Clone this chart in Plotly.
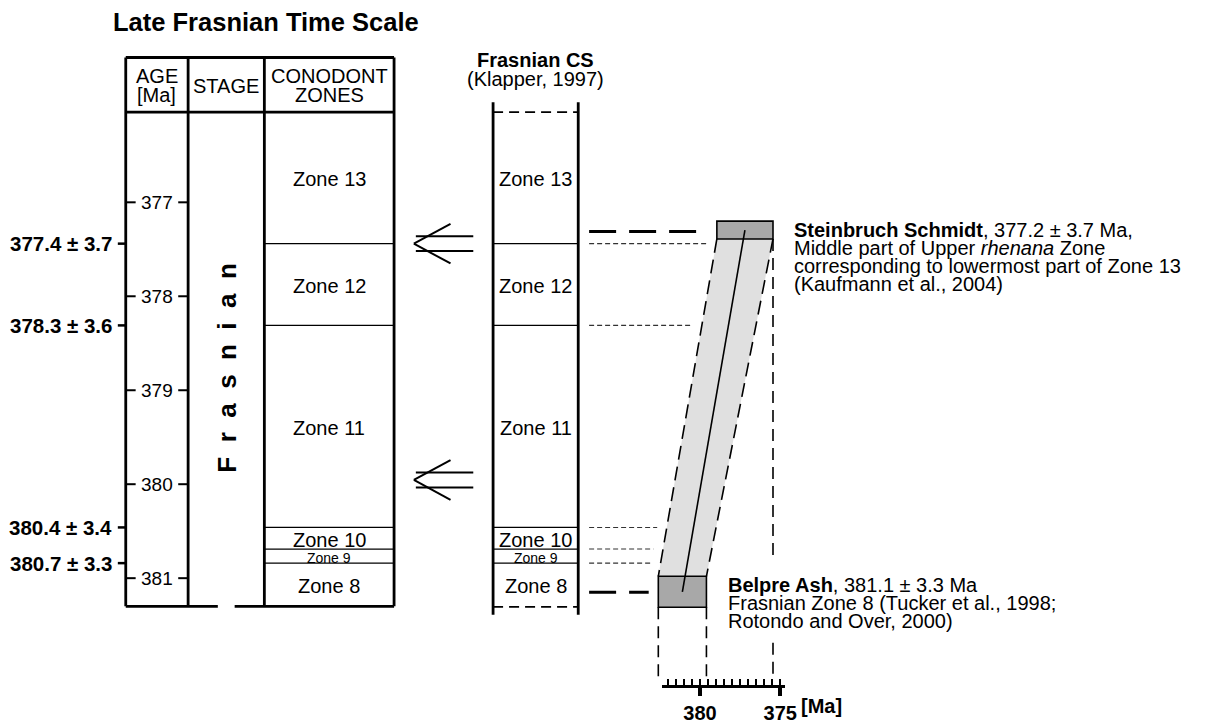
import plotly.graph_objects as go

W, H = 1215, 724
FONT = "Liberation Sans, Arial, sans-serif"

# ---------------- data ----------------
age_ticks = [377, 378, 379, 380, 381]
zone_names = ["Zone 13", "Zone 12", "Zone 11", "Zone 10", "Zone 9", "Zone 8"]
zone_label_sizes = [20, 20, 20, 20, 14, 20]
zone_boundaries = [377.44, 378.31, 380.46, 380.69, 380.84]   # position on the age column
boundary_labels = ["377.4 ± 3.7", "378.3 ± 3.6", "380.4 ± 3.4", "", "380.7 ± 3.3"]
zone13_top_age = 376.04
table_base_age = 381.30
arrow_ages = [377.44, 379.955]

sample_names = ["Steinbruch Schmidt", "Belpre Ash"]
sample_age = [377.2, 381.1]          # radiometric age (Ma), lower x-scale
sample_halfwidth = [1.75, 1.5]       # drawn half width (Ma)
sample_y_top = [377.20, 380.98]      # vertical extent on time column
sample_y_bot = [377.39, 381.31]
sample_link_y = [377.31, 381.15]
ma_major = [380, 375]

steinbruch_text = ["<b>Steinbruch Schmidt</b>, 377.2 ± 3.7 Ma,",
                   "Middle part of Upper <i>rhenana</i> Zone",
                   "corresponding to lowermost part of Zone 13",
                   "(Kaufmann et al., 2004)"]
belpre_text = ["<b>Belpre Ash</b>, 381.1 ± 3.3 Ma",
               "Frasnian Zone 8 (Tucker et al., 1998;",
               "Rotondo and Over, 2000)"]

# ---------------- page scales ----------------
PXY = 94.75      # px per Ma on the time column
def Y(p):        # page pixel row -> time-column Ma
    return 377 + (p - 204) / PXY
PXX = 16.2       # px per Ma on lower age scale, 380 Ma at px 707
def X2(p):
    return 380 - (p - 707) / PXX

shapes = []
def line(x0, y0, x1, y1, xref="x", width=2.5, dash=None, color="black"):
    d = dict(type="line", xref=xref, yref="y", x0=x0, y0=y0, x1=x1, y1=y1,
             line=dict(color=color, width=width))
    if dash:
        d["line"]["dash"] = dash
    shapes.append(d)

ann = []
def text(x, y, s, size=20, xanchor="center", xref="x", angle=0):
    ann.append(dict(x=x, y=y, xref=xref, yref="y", text=s, showarrow=False,
                    xanchor=xanchor, yanchor="middle", textangle=angle,
                    font=dict(family=FONT, size=size, color="black")))

# ---------------- left table ----------------
L, C1, C2, R = 127, 190, 267, 398
top, head = Y(58), Y(113)
for x in (L, C1, C2, R):
    line(x, top, x, table_base_age, width=2.8)
line(L, top, R, top, width=2.8)
line(L, head, R, head, width=2.8)
line(L, table_base_age, 220, table_base_age, width=2.8)
line(237, table_base_age, R, table_base_age, width=2.8)
for b in zone_boundaries:
    line(C2, b, R, b, width=1.3)
for a in age_ticks:
    line(L, a, L + 10, a, width=2)
    line(C1 - 10, a, C1, a, width=2)
    text((L + C1) / 2, a, str(a), size=19)
for b, lab in zip(zone_boundaries, boundary_labels):
    if lab:
        line(119, b, L, b, width=2.5)
        text(115, b, "<b>" + lab + "</b>", size=20.5, xanchor="right")

text(112, Y(22), "<b>Late Frasnian Time Scale</b>", size=25.5, xanchor="left")
text((L + C1) / 2, Y(77), "AGE", size=20)
text((L + C1) / 2, Y(96), "[Ma]", size=20)
text((C1 + C2) / 2, Y(87), "STAGE", size=20)
text((C2 + R) / 2, Y(77), "CONODONT", size=20)
text((C2 + R) / 2, Y(96), "ZONES", size=20)
sp = "\u00a0\u00a0"
text(229, Y(371), "<b>" + sp.join("Frasnian") + "</b>", size=26, angle=-90)

tops = [zone13_top_age] + zone_boundaries
bots = zone_boundaries + [table_base_age]
for nm, sz, t, b in zip(zone_names, zone_label_sizes, tops, bots):
    yc = (t + b) / 2 + 1.5 / PXY
    text((C2 + R) / 2, yc, nm, size=sz)

# ---------------- Klapper composite standard column ----------------
CL, CR = 498, 584
line(CL, Y(103), CL, Y(620), width=2.8)
line(CR, Y(103), CR, Y(620), width=2.8)
line(CL, zone13_top_age, CR, zone13_top_age, width=1.8, dash="10px,6px")
line(CL, Y(612), CR, Y(612), width=1.8, dash="10px,6px")
for b in zone_boundaries:
    line(CL, b, CR, b, width=1.3)
for nm, sz, t, b in zip(zone_names, zone_label_sizes, tops, bots):
    yc = (t + b) / 2 + 1.5 / PXY
    text((CL + CR) / 2, yc, nm, size=sz)
text((CL + CR) / 2, Y(61), "<b>Frasnian CS</b>", size=20)
text((CL + CR) / 2, Y(80), "(Klapper, 1997)", size=20)

# arrows pointing to the left table
for a in arrow_ages:
    dy = 7.5 / PXY
    line(420, a - dy, 478, a - dy, width=2)
    line(420, a + dy, 478, a + dy, width=2)
    line(418, a, 455, a - 20 / PXY, width=2)
    line(418, a, 455, a + 20 / PXY, width=2)

# ---------------- right panel: samples ----------------
left_top = sample_age[0] + sample_halfwidth[0]
right_top = sample_age[0] - sample_halfwidth[0]
left_bot = sample_age[1] + sample_halfwidth[1]
right_bot = sample_age[1] - sample_halfwidth[1]
yt, yb = sample_y_bot[0], sample_y_top[1]

# thin dashed correlation lines from the CS column to the band
for b in zone_boundaries:
    t = (b - yt) / (yb - yt)
    edge = left_top + t * (left_bot - left_top)
    line(X2(595), b, edge + 0.6, b, xref="x2", width=1.1, dash="5px,3px",
         color="#333333")

# thick dashed links at sample levels
line(X2(595), sample_link_y[0], left_top + 0.6, sample_link_y[0], xref="x2",
     width=3, dash="27px,13px")
line(X2(595), sample_link_y[1], left_bot + 0.6, sample_link_y[1], xref="x2",
     width=3, dash="27px,13px")

# dashed band edges
line(left_top, yt, left_bot, yb, xref="x2", width=1.6, dash="14px,7px")
line(right_top, yt, right_bot, yb, xref="x2", width=1.6, dash="14px,7px")

# vertical dashed guides to the age scale
line(left_bot, sample_y_bot[1], left_bot, Y(683), xref="x2", width=1.6, dash="12px,7px")
line(right_bot, sample_y_bot[1], right_bot, Y(683), xref="x2", width=1.6, dash="12px,7px")
line(right_top, sample_y_bot[0], right_top, Y(563), xref="x2", width=1.6, dash="12px,7px")
line(right_top, Y(648), right_top, Y(680), xref="x2", width=1.6, dash="12px,7px")

# sample boxes
for a, hw, y0, y1 in zip(sample_age, sample_halfwidth, sample_y_top, sample_y_bot):
    shapes.append(dict(type="rect", xref="x2", yref="y", x0=a + hw, x1=a - hw,
                       y0=y0, y1=y1, fillcolor="#a8a8a8",
                       line=dict(color="black", width=1.6)))
# line joining the sample centres
line(sample_age[0], (sample_y_top[0] + sample_y_bot[0]) / 2,
     sample_age[1], (sample_y_top[1] + sample_y_bot[1]) / 2,
     xref="x2", width=1.6)

for i, s in enumerate(steinbruch_text):
    text(800, Y(232 + 18 * i), s, size=20, xanchor="left")
for i, s in enumerate(belpre_text):
    text(733, Y(590 + 18 * i), s, size=20, xanchor="left")
text(807, Y(712), "<b>[Ma]</b>", size=20, xanchor="left")

# ---------------- figure ----------------
fig = go.Figure()
# band between the two samples
fig.add_trace(go.Scatter(
    x=[left_top, right_top, right_bot, left_bot, left_top],
    y=[yt, yt, yb, yb, yt], xaxis="x2", yaxis="y",
    fill="toself", fillcolor="#e0e0e0", mode="lines",
    line=dict(width=0, color="rgba(0,0,0,0)"), hoverinfo="skip",
    showlegend=False))
# invisible trace carrying the lower age axis
fig.add_trace(go.Scatter(x=ma_major, y=[381, 381], xaxis="x3", yaxis="y",
                         mode="markers", marker=dict(opacity=0),
                         hoverinfo="skip", showlegend=False))

fig.update_layout(
    width=W, height=H, autosize=False,
    margin=dict(l=0, r=0, t=0, b=0, pad=0),
    paper_bgcolor="white", plot_bgcolor="rgba(0,0,0,0)",
    showlegend=False,
    xaxis=dict(range=[0, W], visible=False, fixedrange=True),
    xaxis2=dict(range=[X2(0), X2(W)], overlaying="x", visible=False,
                fixedrange=True),
    xaxis3=dict(domain=[669 / W, 793 / W], range=[X2(669), X2(793)],
                anchor="free", position=1 - 692 / H, side="bottom",
                showline=True, linecolor="black", linewidth=2.6,
                showgrid=False, zeroline=False,
                tickmode="array", tickvals=ma_major,
                ticktext=["<b>%d</b>" % v for v in ma_major],
                ticks="outside", ticklen=8, tickwidth=3.5, tickcolor="black",
                tickfont=dict(family=FONT, size=20, color="black"),
                minor=dict(ticks="inside", dtick=0.5, tick0=380, ticklen=6,
                           tickwidth=1.6, tickcolor="black", showgrid=False),
                fixedrange=True),
    yaxis=dict(range=[Y(H), Y(0)], visible=False, fixedrange=True),
    shapes=shapes,
    annotations=ann,
)

fig.write_html("out.html", config={"displayModeBar": False},
               post_script="document.body.style.margin='0';"
                           "document.body.style.overflow='hidden';")
